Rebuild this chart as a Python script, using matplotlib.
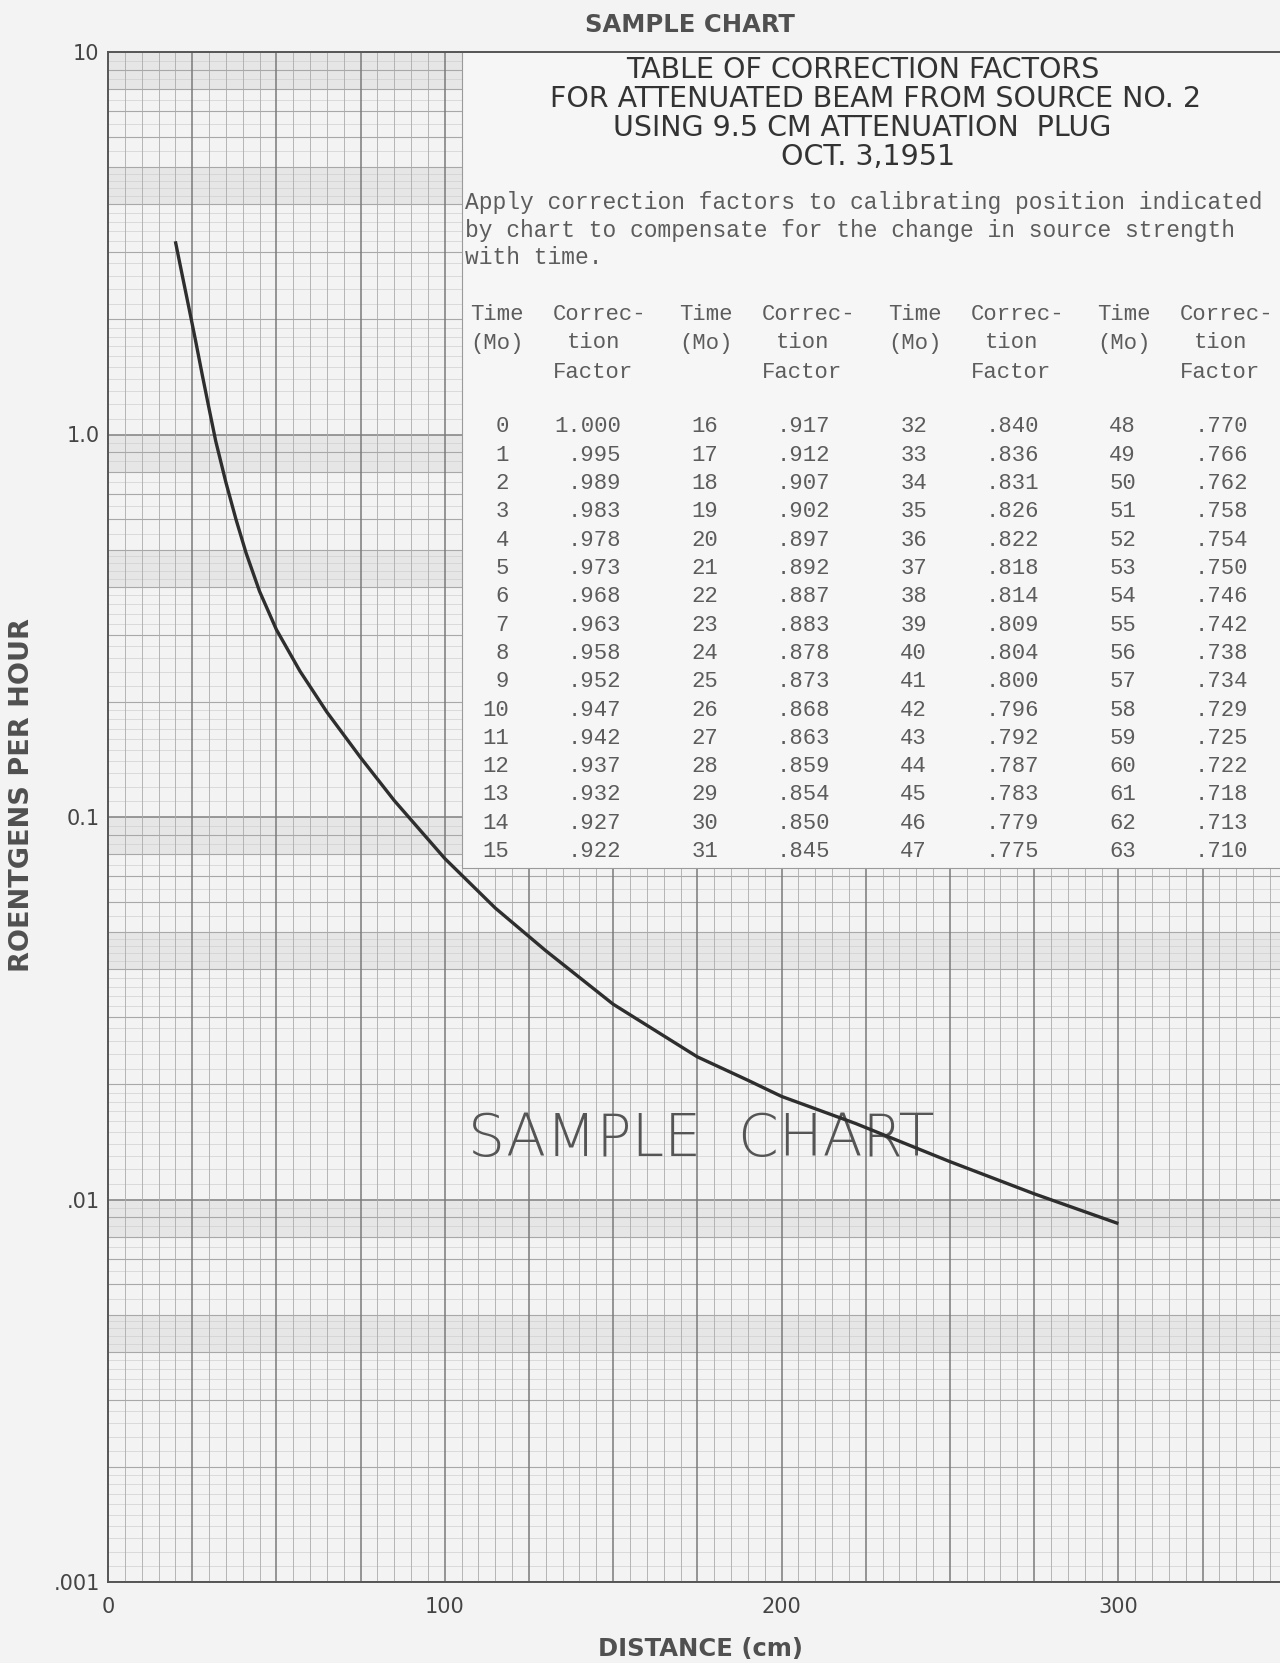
import numpy as np
import matplotlib
matplotlib.use("Agg")
import matplotlib.pyplot as plt
from matplotlib.patches import Rectangle
from matplotlib.ticker import NullLocator

# ── data ─────────────────────────────────────────────────
dist_cm = [20, 22, 24, 26, 28, 30, 32, 35, 38, 41, 45, 50, 57, 65, 75, 85,
           100, 115, 130, 150, 175, 190, 200, 222, 250, 275, 300]
r_per_hr = [3.2, 2.62, 2.15, 1.76, 1.43, 1.17, 0.96, 0.75, 0.60, 0.49, 0.389, 0.309,
            0.2406, 0.188, 0.143, 0.1104, 0.0779, 0.0578, 0.0447, 0.0324,
            0.0236, 0.0205, 0.0186, 0.0158, 0.01256, 0.01035, 0.00865]

x_ticks = [0, 100, 200, 300]
y_ticks = [0.001, 0.01, 0.1, 1.0, 10]
y_tick_lbl = [".001", ".01", "0.1", "1.0", "10"]

months = list(range(64))
factors = [1.000, .995, .989, .983, .978, .973, .968, .963, .958, .952, .947, .942, .937, .932, .927, .922,
           .917, .912, .907, .902, .897, .892, .887, .883, .878, .873, .868, .863, .859, .854, .850, .845,
           .840, .836, .831, .826, .822, .818, .814, .809, .804, .800, .796, .792, .787, .783, .779, .775,
           .770, .766, .762, .758, .754, .750, .746, .742, .738, .734, .729, .725, .722, .718, .713, .710]

title_lines = ["TABLE OF CORRECTION FACTORS",
               "FOR ATTENUATED BEAM FROM SOURCE NO. 2",
               "USING 9.5 CM ATTENUATION  PLUG",
               "OCT. 3,1951"]
note_lines = ["Apply correction factors to calibrating position indicated",
              "by chart to compensate for the change in source strength",
              "with time."]

PAPER = "#f3f3f3"
BAND = "#e6e6e6"
INK = "#333333"
LBL = "#505050"
TYPE = "#5c5c5c"
W, H = 1280, 1663

def px(x, y):
    return x / W, 1 - y / H

fig = plt.figure(figsize=(W / 100, H / 100), dpi=100, facecolor=PAPER)
ax = fig.add_axes([108 / W, 1 - 1582 / H, 1172 / W, 1530 / H])
ax.set_facecolor(PAPER)
ax.set_yscale("log")
ax.set_xlim(0, 348)
ax.set_ylim(1e-3, 10)

# ── graph paper ─────────────────────────────────────────
decades = [1e-3, 1e-2, 1e-1, 1.0]
fine = list(np.arange(1.1, 1.95, 0.1)) + list(np.arange(2.2, 4.9, 0.2)) + list(np.arange(5.5, 9.6, 0.5))
for d in decades:
    ax.axhspan(8 * d, 10 * d, color=BAND, lw=0, zorder=0)
    ax.axhspan(4 * d, 5 * d, color=BAND, lw=0, zorder=0)
    for k in fine:
        if abs(k - round(k)) > 1e-6:
            ax.axhline(k * d, color="#d0d0d0", lw=0.5, zorder=1)
    for k in range(2, 10):
        ax.axhline(k * d, color="#a8a8a8", lw=0.8, zorder=1)
    ax.axhline(d, color="#808080", lw=1.1, zorder=1)

for xv in range(5, 350, 5):
    major = xv % 25 == 0
    ax.axvline(xv, color="#7a7a7a" if major else "#ababab",
               lw=1.1 if major else 0.6, zorder=1)

# table box covers the paper
ax.add_patch(Rectangle((105, 0.0736), 260, 20, facecolor="#f6f6f6",
                       edgecolor="#9a9a9a", lw=0.8, zorder=3))

# watermark
ax.text((701 - 108) / 1172 * 348, 0.0143, "SAMPLE  CHART", fontsize=42,
        color="#555555", ha="center", va="center", zorder=3.5,
        fontweight="light")

# curve
ax.plot(dist_cm, r_per_hr, color="#2e2e2e", lw=2.4, zorder=4,
        solid_capstyle="butt", solid_joinstyle="round")

# ── axes styling ────────────────────────────────────────
for s in ["left", "bottom", "top"]:
    ax.spines[s].set_color("#555555")
    ax.spines[s].set_linewidth(1.4)
    ax.spines[s].set_zorder(5)
ax.spines["right"].set_visible(False)

ax.set_xticks(x_ticks)
ax.set_xticklabels([str(v) for v in x_ticks])
ax.set_yticks(y_ticks)
ax.set_yticklabels(y_tick_lbl)
ax.yaxis.set_minor_locator(NullLocator())
ax.tick_params(axis="x", length=0, pad=11, labelsize=15, labelcolor="#444444")
ax.tick_params(axis="y", length=0, pad=6, labelsize=15, labelcolor="#444444")

fig.text(*px(22, 795), "ROENTGENS PER HOUR", rotation=90, fontsize=19.5,
         fontweight="bold", color=LBL, ha="center", va="center")
fig.text(*px(701, 1649), "DISTANCE (cm)", fontsize=17.5, fontweight="bold",
         color=LBL, ha="center", va="center")
fig.text(*px(690, 25), "SAMPLE CHART", fontsize=17.5, fontweight="bold",
         color=LBL, ha="center", va="center")

# ── correction table ────────────────────────────────────
for i, (line, cx) in enumerate(zip(title_lines, [863, 876, 862, 868])):
    fig.text(*px(cx, 70 + 29 * i), line, fontsize=20.5,
             color=INK, ha="center", va="center", zorder=6)

for i, line in enumerate(note_lines):
    fig.text(*px(465, 202 + 28 * i), line, fontsize=16.5, color=TYPE,
             family="Liberation Mono", ha="left", va="center", zorder=6)

mono = dict(family="Liberation Mono", fontsize=16, color=TYPE, va="center", zorder=6)
for g in range(4):
    off = 209 * g
    fig.text(*px(470 + off, 315), "Time", ha="left", **mono)
    fig.text(*px(470 + off, 343), "(Mo)", ha="left", **mono)
    fig.text(*px(553 + off, 315), "Correc-", ha="left", **mono)
    fig.text(*px(567 + off, 343), "tion", ha="left", **mono)
    fig.text(*px(553 + off, 372), "Factor", ha="left", **mono)
    for r in range(16):
        idx = 16 * g + r
        y = 426.7 + 28.33 * r
        f = factors[idx]
        ftxt = "1.000" if f >= 1 else f"{f:.3f}"[1:]
        fig.text(*px(509 + off, y), str(months[idx]), ha="right", **mono)
        fig.text(*px(621 + off, y), ftxt, ha="right", **mono)

fig.savefig("out.png", dpi=100, facecolor=PAPER)
